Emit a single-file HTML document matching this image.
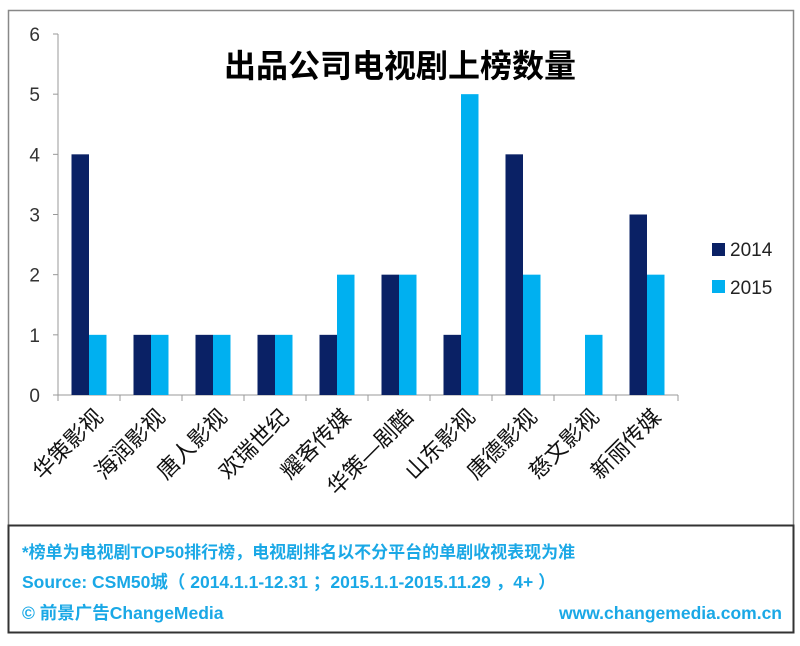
<!DOCTYPE html>
<html><head><meta charset="utf-8">
<style>
body{margin:0;background:#fff;width:800px;height:641px;overflow:hidden;font-family:"Liberation Sans","Noto Sans CJK SC",sans-serif;}
svg text{font-family:"Liberation Sans","Noto Sans CJK SC",sans-serif;}
</style></head><body>
<svg width="800" height="641">
<rect x="8.5" y="10.5" width="785" height="515" fill="none" stroke="#888" stroke-width="1.5"/>
<rect x="8.5" y="525.5" width="785" height="107" fill="none" stroke="#333" stroke-width="2"/>
<text x="400" y="77" text-anchor="middle" font-size="32" font-weight="bold" fill="#000">出品公司电视剧上榜数量</text>
<g id="axes"></g>
<g id="bars"></g>
<g id="labels"></g>
<rect x="712" y="243" width="13" height="13" fill="#0a2165"/>
<text x="730" y="256" font-size="19" fill="#222">2014</text>
<rect x="712" y="280" width="13" height="13" fill="#00b0f0"/>
<text x="730" y="294" font-size="19" fill="#222">2015</text>
<text x="22" y="558" font-size="17" font-weight="bold" fill="#1aa8e6">*榜单为电视剧TOP50排行榜，电视剧排名以不分平台的单剧收视表现为准</text>
<text x="22" y="588" font-size="17.5" font-weight="bold" fill="#1aa8e6">Source: CSM50城（ 2014.1.1-12.31 ；2015.1.1-2015.11.29 ，4+ ）</text>
<text x="22" y="619" font-size="17.5" font-weight="bold" fill="#1aa8e6">© 前景广告ChangeMedia</text>
<text x="782" y="619" text-anchor="end" font-size="17.5" font-weight="bold" fill="#1aa8e6">www.changemedia.com.cn</text>
</svg>
<script>
const categories=["华策影视","海润影视","唐人影视","欢瑞世纪","耀客传媒","华策—剧酷","山东影视","唐德影视","慈文影视","新丽传媒"];
const values2014=[4,1,1,1,1,2,1,4,0,3];
const values2015=[1,1,1,1,2,2,5,2,1,2];
const yTicks=[0,1,2,3,4,5,6];
const NS="http://www.w3.org/2000/svg";
const x0=58,x1=678,y0=395,yTop=34,yMax=6;
const cw=(x1-x0)/categories.length;
const y=v=>y0-(v/yMax)*(y0-yTop);
const xc=i=>x0+cw*i;
function mk(t,a,p){const e=document.createElementNS(NS,t);for(const k in a)e.setAttribute(k,a[k]);document.getElementById(p).appendChild(e);return e;}
let l=mk('line',{x1:x0,y1:yTop,x2:x0,y2:y0,stroke:'#999'},'axes');


l=mk('line',{x1:x0,y1:y0,x2:x1,y2:y0,stroke:'#999'},'axes');


yTicks.forEach(v=>{
 const t=mk('line',{x1:x0-5,y1:y(v),x2:x0,y2:y(v),stroke:'#999'},'axes');
 
 
 const s=mk('text',{x:x0-18,y:y(v)+7,'text-anchor':'end','font-size':'19',fill:'#333'},'axes');
 s.textContent=v;
 
 
});
for(let i=0;i<=categories.length;i++){
 const t=mk('line',{x1:xc(i),y1:y0,x2:xc(i),y2:y0+6,stroke:'#999'},'axes');
 
 
}
const bw=17.5;
categories.forEach((c,i)=>{
 const gx=xc(i)+cw/2-bw;
 if(values2014[i]>0){const r=mk('rect',{x:gx,y:y(values2014[i]),width:bw,height:y0-y(values2014[i]),fill:'#0a2165'},'bars');
 
 }
 if(values2015[i]>0){const r=mk('rect',{x:gx+bw,y:y(values2015[i]),width:bw,height:y0-y(values2015[i]),fill:'#00b0f0'},'bars');
 
 }
 const cx=xc(i)+cw/2+4, cy=y0+12;
 const t=mk('text',{x:cx,y:cy,'text-anchor':'end','font-size':'22',fill:'#111',transform:`rotate(-45 ${cx} ${cy})`,'dominant-baseline':'hanging'},'labels');
 t.textContent=c;
 
 
});
</script>
</body></html>
